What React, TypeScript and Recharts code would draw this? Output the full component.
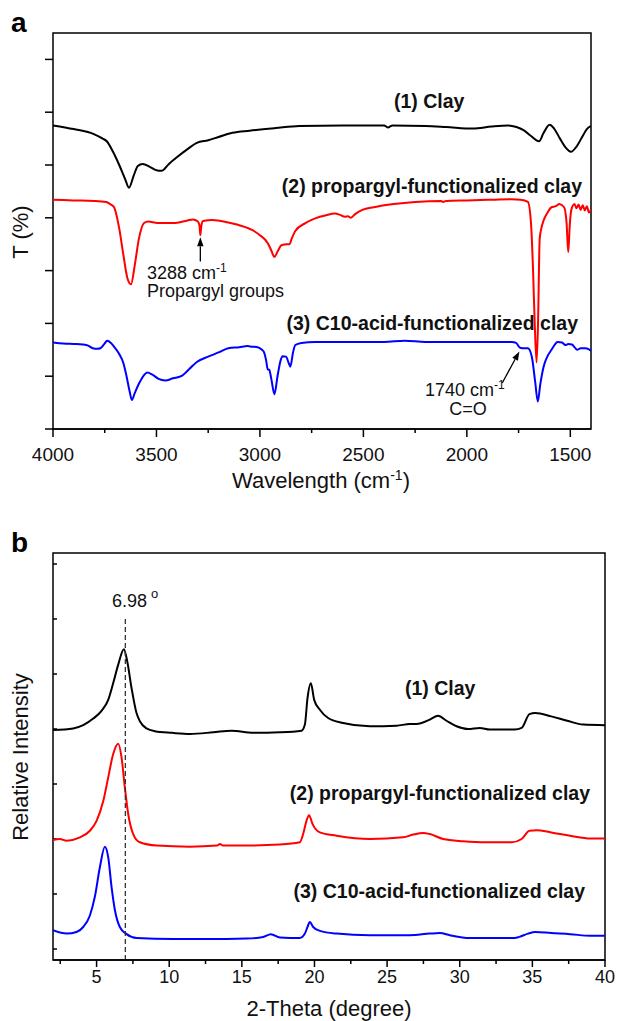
import React from 'react';
import { LineChart, Line, XAxis, YAxis, ReferenceLine, ReferenceArea } from 'recharts';

const FONT = '"Liberation Sans", Arial, Helvetica, sans-serif';

// ---------- Panel a : FTIR (wavenumber, T in axis units) ----------
const ftirClay: [number, number][] = [
  [4000, 5.75], [3900, 5.68], [3800, 5.58], [3760, 5.5], [3740, 5.45], [3710, 5.25], [3680, 5.0],
  [3650, 4.72], [3633, 4.57], [3610, 4.8], [3590, 4.98], [3567, 5.02], [3530, 4.96], [3500, 4.9],
  [3476, 4.89], [3440, 5.02], [3400, 5.15], [3350, 5.3], [3305, 5.42], [3250, 5.47], [3200, 5.53],
  [3133, 5.61], [3050, 5.65], [2924, 5.7], [2810, 5.74], [2600, 5.75], [2400, 5.75], [2380, 5.71],
  [2371, 5.73], [2360, 5.75], [2200, 5.74], [2100, 5.72], [1971, 5.69], [1880, 5.73], [1800, 5.75],
  [1760, 5.72], [1726, 5.66], [1690, 5.55], [1651, 5.45], [1630, 5.6], [1600, 5.76], [1580, 5.7],
  [1550, 5.5], [1520, 5.32], [1497, 5.25], [1470, 5.35], [1440, 5.55], [1420, 5.68], [1400, 5.74],
];

const ftirPropargyl: [number, number][] = [
  [4000, 4.34], [3900, 4.33], [3800, 4.32], [3743, 4.3], [3720, 4.25], [3705, 4.2], [3680, 3.8],
  [3660, 3.3], [3640, 2.85], [3623, 2.74], [3605, 3.1], [3585, 3.6], [3560, 3.9], [3540, 3.93],
  [3495, 3.9], [3419, 3.9], [3350, 3.95], [3324, 3.97], [3300, 3.93], [3292, 3.85], [3288, 3.67],
  [3283, 3.85], [3275, 3.94], [3229, 3.96], [3153, 3.91], [3100, 3.86], [3038, 3.77], [3000, 3.67],
  [2962, 3.52], [2945, 3.38], [2930, 3.26], [2915, 3.36], [2896, 3.48], [2870, 3.5], [2857, 3.5],
  [2845, 3.62], [2829, 3.75], [2780, 3.9], [2733, 3.99], [2680, 4.05], [2638, 4.08], [2610, 4.05],
  [2590, 4.02], [2575, 4.03], [2560, 4.0], [2540, 4.07], [2505, 4.15], [2450, 4.2], [2353, 4.26],
  [2250, 4.3], [2124, 4.32], [2115, 4.3], [2100, 4.32], [2000, 4.33], [1900, 4.34], [1783, 4.35],
  [1740, 4.34], [1705, 4.3], [1690, 3.9], [1680, 3.0], [1672, 2.0], [1663, 1.26], [1656, 2.0],
  [1648, 3.6], [1640, 3.8], [1629, 3.95], [1610, 4.1], [1591, 4.2], [1570, 4.22], [1553, 4.26],
  [1530, 4.2], [1518, 3.9], [1510, 3.35], [1502, 3.9], [1495, 4.15], [1480, 4.26], [1470, 4.18],
  [1460, 4.25], [1450, 4.15], [1440, 4.24], [1430, 4.14], [1420, 4.22], [1410, 4.1], [1400, 4.16],
];

const ftirAcid: [number, number][] = [
  [4000, 1.64], [3950, 1.62], [3900, 1.61], [3857, 1.6], [3830, 1.58], [3808, 1.53], [3785, 1.52],
  [3771, 1.53], [3750, 1.62], [3739, 1.67], [3720, 1.63], [3705, 1.56], [3680, 1.42], [3660, 1.25],
  [3648, 1.06], [3630, 0.72], [3619, 0.55], [3605, 0.68], [3583, 0.87], [3560, 1.02], [3545, 1.07],
  [3520, 1.03], [3490, 0.95], [3457, 0.92], [3420, 0.96], [3381, 1.0], [3340, 1.14], [3305, 1.27],
  [3250, 1.37], [3200, 1.45], [3153, 1.53], [3100, 1.55], [3060, 1.57], [3038, 1.56], [3011, 1.55],
  [2990, 1.5], [2981, 1.46], [2970, 1.3], [2962, 1.13], [2955, 1.12], [2945, 0.95], [2930, 0.66],
  [2915, 1.0], [2900, 1.3], [2891, 1.38], [2874, 1.37], [2860, 1.24], [2853, 1.18], [2840, 1.45],
  [2829, 1.59], [2800, 1.63], [2733, 1.65], [2600, 1.65], [2400, 1.65], [2300, 1.67], [2200, 1.65],
  [2000, 1.65], [1900, 1.65], [1783, 1.65], [1762, 1.63], [1743, 1.54], [1720, 1.53], [1705, 1.53],
  [1686, 1.37], [1670, 0.9], [1657, 0.52], [1645, 0.85], [1629, 1.18], [1610, 1.38], [1591, 1.5],
  [1575, 1.6], [1562, 1.65], [1540, 1.64], [1524, 1.59], [1510, 1.61], [1492, 1.6], [1480, 1.55],
  [1467, 1.5], [1450, 1.53], [1429, 1.53], [1410, 1.51], [1400, 1.48],
];

const ftirXTicks = [4000, 3750, 3500, 3250, 3000, 2750, 2500, 2250, 2000, 1750, 1500];
const ftirYTicks = [0, 1, 2, 3, 4, 5, 6, 7];
const ftirXDomain: [number, number] = [1400, 4000];
const ftirYDomain: [number, number] = [0, 7.5];
const arrow3288: [number, number][] = [[3288, 3.17], [3288, 3.63]];
const arrow1740: [number, number][] = [[1829, 0.87], [1746, 1.47]];

// ---------- Panel b : XRD (2-theta, relative intensity in axis units) ----------
const xrdClay: [number, number][] = [
  [2.0, 3.98], [3.39, 4.01], [4.08, 4.07], [4.77, 4.19], [5.34, 4.33], [5.8, 4.53], [6.14, 4.83],
  [6.49, 5.17], [6.88, 5.45], [7.11, 5.23], [7.41, 4.74], [7.75, 4.29], [7.98, 4.14], [8.44, 4.01],
  [9.01, 3.96], [10.2, 3.93], [11.42, 3.91], [13.03, 3.94], [14.29, 3.97], [15.78, 3.93],
  [17.62, 3.94], [19.11, 3.97], [19.34, 4.08], [19.52, 4.56], [19.75, 4.83], [19.98, 4.53],
  [20.37, 4.35], [20.94, 4.2], [21.97, 4.11], [23.81, 4.05], [25.65, 4.06], [26.56, 4.09],
  [27.02, 4.09], [27.94, 4.17], [28.51, 4.24], [29.09, 4.15], [29.78, 4.05], [30.57, 4.0],
  [31.38, 4.02], [32.07, 3.99], [33.79, 3.99], [34.26, 4.02], [34.8, 4.27], [35.2, 4.29],
  [36.3, 4.23], [37.4, 4.15], [38.5, 4.08], [40, 4.07],
];

const xrdPropargyl: [number, number][] = [
  [2.0, 1.98], [2.47, 2.0], [2.94, 1.97], [3.85, 2.03], [4.54, 2.15], [5.0, 2.33], [5.46, 2.69],
  [5.8, 3.12], [6.14, 3.54], [6.49, 3.73], [6.72, 3.48], [6.95, 2.93], [7.18, 2.45], [7.52, 2.09],
  [7.98, 1.94], [9.13, 1.88], [11.42, 1.86], [13.3, 1.88], [13.49, 1.91], [13.7, 1.88],
  [14.86, 1.88], [17.62, 1.9], [18.99, 1.94], [19.22, 2.09], [19.45, 2.33], [19.63, 2.43],
  [19.87, 2.27], [20.37, 2.12], [21.52, 2.06], [23.81, 2.0], [26.1, 2.03], [26.79, 2.08],
  [27.48, 2.11], [27.94, 2.09], [28.86, 2.0], [30.23, 1.96], [31.84, 1.94], [33.58, 1.94],
  [34.26, 2.0], [34.8, 2.15], [35.3, 2.16], [36.3, 2.12], [37.6, 2.06], [39.0, 2.01], [40, 2.01],
];

const xrdAcid: [number, number][] = [
  [2.0, 0.34], [2.94, 0.28], [3.62, 0.31], [4.08, 0.4], [4.54, 0.61], [4.88, 0.95], [5.23, 1.49],
  [5.57, 1.86], [5.8, 1.67], [6.03, 1.13], [6.26, 0.71], [6.6, 0.4], [7.07, 0.27], [7.75, 0.2],
  [10.27, 0.18], [12.57, 0.18], [15.32, 0.19], [16.47, 0.22], [17.0, 0.27], [17.62, 0.21],
  [18.99, 0.2], [19.34, 0.28], [19.52, 0.4], [19.68, 0.49], [19.91, 0.4], [20.37, 0.33],
  [21.52, 0.28], [23.81, 0.25], [26.56, 0.25], [27.94, 0.28], [28.63, 0.29], [29.32, 0.25],
  [30.69, 0.2], [33.79, 0.2], [34.1, 0.22], [34.7, 0.28], [35.2, 0.31], [36.3, 0.29],
  [37.6, 0.27], [39.0, 0.24], [40, 0.24],
];

const xrdXTicks = [2.5, 5, 7.5, 10, 12.5, 15, 17.5, 20, 22.5, 25, 27.5, 30, 32.5, 35, 37.5, 40];
const xrdYTicks = [0, 1, 2, 3, 4, 5, 6, 7];
const xrdXDomain: [number, number] = [2, 40];
const xrdYDomain: [number, number] = [-0.2, 7.2];
const peakMarker = 6.98;
const peakMarkerTop = 6.01;

const toPts = (arr: [number, number][]) => arr.map(([x, y]) => ({ x, y }));
const toSeg = (arr: [number, number][]) => arr.map(([x, y]) => ({ x, y }));

const makeXTick = (majorStep: number, majorLen: number, minorLen: number, labelDy: number, fontSize: number) =>
  (props: any) => {
    const { x, y, payload } = props;
    const v = payload.value as number;
    const r = v / majorStep;
    const major = Math.abs(r - Math.round(r)) < 1e-6;
    return (
      <g>
        <line x1={x} x2={x} y1={y} y2={y + (major ? majorLen : minorLen)} stroke="#000" strokeWidth={1.5} />
        {major && (
          <text x={x} y={y + labelDy} textAnchor="middle" fontSize={fontSize} fontFamily={FONT} fill="#111">
            {v}
          </text>
        )}
      </g>
    );
  };

const boldLabel = { fontFamily: FONT, fontWeight: 700, fontSize: 19.5, fill: '#111' } as const;
const normLabel = { fontFamily: FONT, fontSize: 18, fill: '#111' } as const;
const titleLabel = { fontFamily: FONT, fontSize: 22, fill: '#111' } as const;

const ArrowShape = (props: any) => {
  const { x1, y1, x2, y2 } = props;
  const dx = x2 - x1;
  const dy = y2 - y1;
  const L = Math.sqrt(dx * dx + dy * dy) || 1;
  const ux = dx / L;
  const uy = dy / L;
  const hl = 9;
  const hw = 3.2;
  const bx = x2 - ux * hl;
  const by = y2 - uy * hl;
  const px = -uy;
  const py = ux;
  return (
    <g>
      <line x1={x1} y1={y1} x2={bx} y2={by} stroke="#000" strokeWidth={1.3} />
      <polygon points={`${x2},${y2} ${bx + px * hw},${by + py * hw} ${bx - px * hw},${by - py * hw}`} fill="#000" />
    </g>
  );
};

// y-axis ticks drawn as short reference segments at the tick values
const YTickMark = (len: number) => (props: any) => {
  const { x1, y1 } = props;
  return <line x1={x1} x2={x1 + len} y1={y1} y2={y1} stroke="#000" strokeWidth={1.5} />;
};

export default function App() {
  const tickA = YTickMark(-8);
  const tickB = YTickMark(4);
  return (
    <div style={{ position: 'absolute', left: 0, top: 0, width: 617, height: 1021, background: '#fff' }}>
      <div style={{ position: 'absolute', left: 0, top: 0 }}>
        <LineChart width={617} height={500} margin={{ top: 33, right: 26, bottom: 31, left: 53 }}>
          <XAxis
            type="number"
            dataKey="x"
            domain={ftirXDomain}
            reversed
            allowDataOverflow
            ticks={ftirXTicks}
            interval={0}
            height={40}
            tickSize={0}
            tickMargin={0}
            tickLine={false}
            axisLine={{ stroke: '#000', strokeWidth: 1.5 }}
            tick={makeXTick(500, 8, 4, 32, 19)}
          />
          <YAxis
            type="number"
            domain={ftirYDomain}
            allowDataOverflow
            ticks={ftirYTicks}
            width={0}
            tick={false}
            tickLine={false}
            axisLine={{ stroke: '#000', strokeWidth: 1.5 }}
          />
          <ReferenceArea x1={ftirXDomain[0]} x2={ftirXDomain[1]} y1={ftirYDomain[0]} y2={ftirYDomain[1]} fill="none" stroke="#000" strokeWidth={1.5} ifOverflow="visible" />
          {ftirYTicks.map((t) => (
            <ReferenceLine key={`ya${t}`} segment={[{ x: ftirXDomain[1], y: t }, { x: ftirXDomain[1], y: t }]} shape={tickA} ifOverflow="visible" />
          ))}
          <Line data={toPts(ftirClay)} dataKey="y" type="monotone" stroke="#000" strokeWidth={2} dot={false} isAnimationActive={false} />
          <Line data={toPts(ftirAcid)} dataKey="y" type="monotone" stroke="#0000ff" strokeWidth={2} dot={false} isAnimationActive={false} />
          <Line data={toPts(ftirPropargyl)} dataKey="y" type="monotone" stroke="#ff0000" strokeWidth={2} dot={false} isAnimationActive={false} />
          <ReferenceLine segment={toSeg(arrow3288)} shape={ArrowShape} ifOverflow="visible" />
          <ReferenceLine segment={toSeg(arrow1740)} shape={ArrowShape} ifOverflow="visible" />
          <text x={11} y={32} fontFamily={FONT} fontWeight={700} fontSize={28} fill="#000">a</text>
          <text x={394} y={108} {...boldLabel}>(1) Clay</text>
          <text x={582} y={193} textAnchor="end" {...boldLabel}>(2) propargyl-functionalized clay</text>
          <text x={578} y={330} textAnchor="end" {...boldLabel}>(3) C10-acid-functionalized clay</text>
          <text x={147} y={279} {...normLabel}>
            3288 cm<tspan dy={-7} fontSize={12}>-1</tspan>
          </text>
          <text x={147} y={297} {...normLabel}>Propargyl groups</text>
          <text x={425} y={396} {...normLabel}>
            1740 cm<tspan dy={-7} fontSize={12}>-1</tspan>
          </text>
          <text x={468} y={415} textAnchor="middle" {...normLabel}>C=O</text>
          <text x={28} y={232} textAnchor="middle" transform="rotate(-90, 28, 232)" {...titleLabel}>T (%)</text>
          <text x={321} y={488} textAnchor="middle" {...titleLabel}>
            Wavelength (cm<tspan dy={-8} fontSize={14}>-1</tspan><tspan dy={8}>)</tspan>
          </text>
        </LineChart>
      </div>
      <div style={{ position: 'absolute', left: 0, top: 500 }}>
        <LineChart width={617} height={521} margin={{ top: 53, right: 12, bottom: 21, left: 53 }}>
          <XAxis
            type="number"
            dataKey="x"
            domain={xrdXDomain}
            allowDataOverflow
            ticks={xrdXTicks}
            interval={0}
            height={40}
            tickSize={0}
            tickMargin={0}
            tickLine={false}
            axisLine={{ stroke: '#000', strokeWidth: 1.5 }}
            tick={makeXTick(5, 7, 4, 23, 18)}
          />
          <YAxis
            type="number"
            domain={xrdYDomain}
            allowDataOverflow
            ticks={xrdYTicks}
            width={0}
            tick={false}
            tickLine={false}
            axisLine={{ stroke: '#000', strokeWidth: 1.5 }}
          />
          <ReferenceArea x1={xrdXDomain[0]} x2={xrdXDomain[1]} y1={xrdYDomain[0]} y2={xrdYDomain[1]} fill="none" stroke="#000" strokeWidth={1.5} ifOverflow="visible" />
          {xrdYTicks.map((t) => (
            <ReferenceLine key={`yb${t}`} segment={[{ x: xrdXDomain[0], y: t }, { x: xrdXDomain[0], y: t }]} shape={tickB} ifOverflow="visible" />
          ))}
          <Line data={toPts(xrdClay)} dataKey="y" type="monotone" stroke="#000" strokeWidth={2} dot={false} isAnimationActive={false} />
          <Line data={toPts(xrdPropargyl)} dataKey="y" type="monotone" stroke="#ff0000" strokeWidth={2} dot={false} isAnimationActive={false} />
          <Line data={toPts(xrdAcid)} dataKey="y" type="monotone" stroke="#0000ff" strokeWidth={2} dot={false} isAnimationActive={false} />
          <ReferenceLine
            segment={[{ x: peakMarker, y: xrdYDomain[0] }, { x: peakMarker, y: peakMarkerTop }]}
            stroke="#333"
            strokeWidth={1.3}
            strokeDasharray="5 3"
            ifOverflow="visible"
          />
          <text x={11} y={52} fontFamily={FONT} fontWeight={700} fontSize={28} fill="#000">b</text>
          <text x={112} y={107} {...normLabel}>
            6.98<tspan dx={4} dy={-9} fontSize={13}>o</tspan>
          </text>
          <text x={405} y={195} {...boldLabel}>(1) Clay</text>
          <text x={590} y={300} textAnchor="end" {...boldLabel}>(2) propargyl-functionalized clay</text>
          <text x={585} y={398} textAnchor="end" {...boldLabel}>(3) C10-acid-functionalized clay</text>
          <text x={28} y={257} textAnchor="middle" transform="rotate(-90, 28, 257)" {...titleLabel}>Relative Intensity</text>
          <text x={329} y={516} textAnchor="middle" {...titleLabel}>2-Theta (degree)</text>
        </LineChart>
      </div>
    </div>
  );
}
